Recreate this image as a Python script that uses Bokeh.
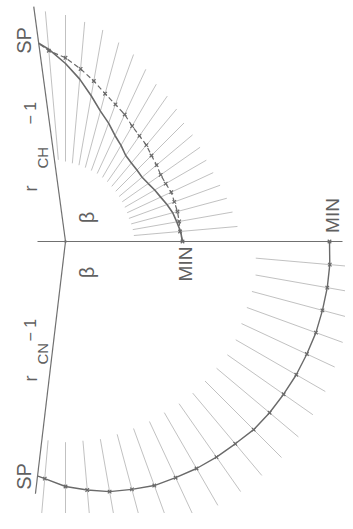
import numpy as np
from bokeh.plotting import figure
from bokeh.models import Range1d
from bokeh.core.properties import value
from bokeh.embed import file_html
from bokeh.resources import INLINE

# ---------------- data (polar: angle in degrees, radius in plot units) ----------------
# reference axes: MIN axis at 0 deg, SP axes of both diagrams
axis_min_left = -28
axis_min_right = 277
sp_axis_angle_ch = 97.7
sp_axis_len_ch = 237
sp_axis_angle_cn = -96.8
sp_axis_len_cn = 254

# upper diagram: r_CH - 1 versus beta
ch_tick_angle = [5, 10, 15, 20, 25, 30, 35, 40, 45, 50, 55, 60, 65, 70, 75, 80, 85, 90, 95]
ch_tick_inner = [68.6, 68.3, 68, 67.5, 68, 68.5, 69.3, 70, 71, 72, 73, 74, 75, 75.5, 76.5, 77.5, 78.5, 80, 82]
ch_tick_outer = [172.6, 169.6, 167, 164.5, 163, 162.6, 164.3, 165.9, 167.6, 173, 177.5, 181.6, 190, 199, 206, 214.8, 220.4, 226.5, 231]

ch_solid_angle = [0, 5, 10, 15, 20, 25, 30, 35, 40, 45, 50, 55, 60, 65, 70, 75, 80, 85, 90, 95, 97.7]
ch_solid_r = [117, 115.5, 113, 111, 108, 105, 103, 101, 100, 101, 102.5, 105, 111, 117, 126, 135, 148, 163, 178, 193, 200]

ch_dash_angle = [0, 5, 10, 15, 20, 25, 30, 35, 40, 45, 50, 55, 60, 65, 70, 75, 80, 85, 90, 95, 97.7]
ch_dash_r = [117, 115, 115.4, 115.9, 115.8, 116.7, 115.7, 116.2, 118.9, 121.6, 125.8, 128.9, 133.3, 140.1, 145.9, 153, 163, 173.2, 183.7, 191.5, 200]

# lower diagram: r_CN - 1 versus beta
cn_tick_angle = [-5, -10, -15, -20, -25, -30, -35, -40, -45, -50, -55, -60, -65, -70, -75, -80, -85, -90, -95]
cn_tick_inner = [191, 193, 193, 193, 194.2, 196.6, 197.6, 197.2, 197.3, 197.9, 198, 197.6, 198.6, 199, 199.6, 200.7, 200, 200.7, 199.6]
cn_tick_outer = [300, 295, 293, 295, 297, 300, 302, 304, 305.5, 305.4, 305.3, 304.7, 302.5, 300.3, 300, 300, 300, 300, 278]

cn_angle = [0, -5, -10, -15, -20, -25, -30, -35, -40, -45, -50, -55, -60, -65, -70, -75, -80, -85, -90, -95, -96.7]
cn_r = [264, 265.3, 265.8, 266, 266.5, 266.3, 266.5, 266.3, 266.4, 266.1, 264.1, 263.2, 262.1, 260.6, 259.7, 256.6, 254, 249.5, 245, 238, 236.3]


def px(a, r):
    return list(np.asarray(r, float) * np.cos(np.deg2rad(np.asarray(a, float))))


def py(a, r):
    return list(np.asarray(r, float) * np.sin(np.deg2rad(np.asarray(a, float))))


AX = "#707070"
TK = "#bababa"
CV = "#6a6a6a"
TX = "#606060"
FONT = value("Liberation Sans")

p = figure(width=345, height=513, output_backend="svg", toolbar_location=None,
           x_range=Range1d(-65, 280), y_range=Range1d(-272, 241),
           x_axis_type=None, y_axis_type=None, min_border=0)
p.grid.visible = False
p.outline_line_color = None
p.background_fill_color = "white"
p.border_fill_color = "white"

# ticks (radial lines)
p.segment(px(ch_tick_angle, ch_tick_inner), py(ch_tick_angle, ch_tick_inner),
          px(ch_tick_angle, ch_tick_outer), py(ch_tick_angle, ch_tick_outer),
          line_color=TK, line_width=0.9)
p.segment(px(cn_tick_angle, cn_tick_inner), py(cn_tick_angle, cn_tick_inner),
          px(cn_tick_angle, cn_tick_outer), py(cn_tick_angle, cn_tick_outer),
          line_color=TK, line_width=0.9)

# axes
p.segment([axis_min_left], [0], [axis_min_right], [0], line_color=AX, line_width=1.2)
p.segment([0, 0], [0, 0],
          px([sp_axis_angle_ch, sp_axis_angle_cn], [sp_axis_len_ch, sp_axis_len_cn]),
          py([sp_axis_angle_ch, sp_axis_angle_cn], [sp_axis_len_ch, sp_axis_len_cn]),
          line_color=AX, line_width=1.2)

# curves
p.line(px(ch_solid_angle, ch_solid_r), py(ch_solid_angle, ch_solid_r),
       line_color=CV, line_width=1.6)
p.line(px(ch_dash_angle, ch_dash_r), py(ch_dash_angle, ch_dash_r),
       line_color=CV, line_width=1.2, line_dash="5 3")
p.scatter(px(ch_dash_angle[:-1], ch_dash_r[:-1]), py(ch_dash_angle[:-1], ch_dash_r[:-1]),
          marker="x", size=5, line_color=CV, line_width=1.2)
p.line(px(cn_angle, cn_r), py(cn_angle, cn_r), line_color=CV, line_width=1.4)
p.scatter(px(cn_angle[:-1], cn_r[:-1]), py(cn_angle[:-1], cn_r[:-1]),
          marker="x", size=5, line_color=CV, line_width=1.2)
p.scatter([0], [0], marker="circle", size=2.5, fill_color=AX, line_color=None)

ROT = np.pi / 2
# labels
p.text(x=[-41.5, -41.5], y=[201, -235], text=["SP", "SP"], angle=ROT,
       text_align="center", text_baseline="middle", text_font=FONT,
       text_font_size="20px", text_color=TX)
p.text(x=[119.5, 267], y=[-22.5, 26], text=["MIN", "MIN"], angle=ROT,
       text_align="center", text_baseline="middle", text_font=FONT,
       text_font_size="19px", text_color=TX)
p.text(x=[21, 21], y=[24, -31], text=["β", "β"], angle=ROT,
       text_align="center", text_baseline="middle", text_font=FONT,
       text_font_size="20px", text_color=TX)
# r_CH - 1 and r_CN - 1
p.text(x=[-35, -35], y=[50, -140], text=["r", "r"], angle=ROT,
       text_align="left", text_baseline="alphabetic", text_font=FONT,
       text_font_size="18px", text_color=TX)
p.text(x=[-23, -23], y=[73, -123], text=["CH", "CN"], angle=ROT,
       text_align="left", text_baseline="alphabetic", text_font=FONT,
       text_font_size="15px", text_color=TX)
p.text(x=[-35, -35], y=[117, -100], text=["− 1", "− 1"], angle=ROT,
       text_align="left", text_baseline="alphabetic", text_font=FONT,
       text_font_size="16px", text_color=TX)

open("out.html", "w").write(file_html(p, INLINE))
